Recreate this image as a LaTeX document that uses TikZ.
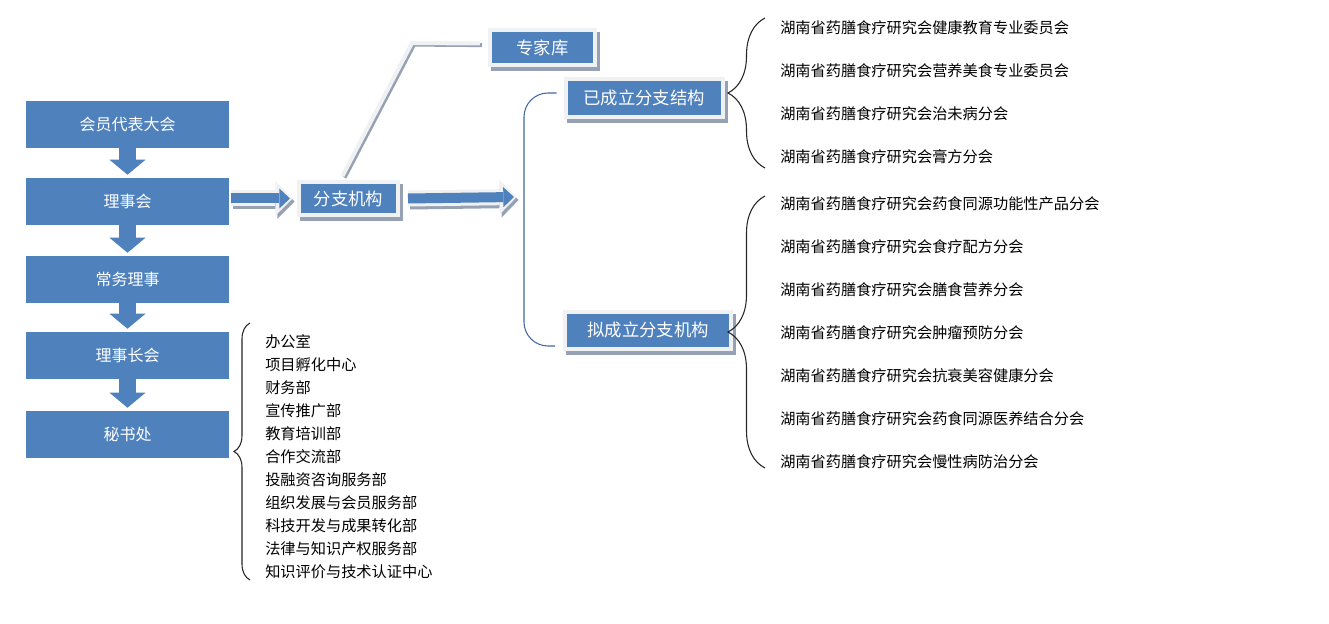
\documentclass[tikz,border=0pt]{standalone}
\usepackage{fontspec}
\setmainfont{Noto Sans CJK SC}
\usetikzlibrary{arrows.meta,decorations.pathreplacing}
\definecolor{BoxBlue}{RGB}{79,129,189}
\definecolor{FrameGray}{RGB}{240,241,243}
\definecolor{ShadowGray}{RGB}{150,162,180}
\definecolor{ForkBlue}{RGB}{65,105,160}
\tikzset{
  mainbox/.style={fill=BoxBlue,text=white,minimum width=152.25pt,
    minimum height=35.25pt,inner sep=0pt,font=\fontsize{12}{14}\selectfont},
  framebox/.style={fill=BoxBlue,draw=FrameGray,line width=3pt,text=white,
    inner sep=0pt,font=\fontsize{13}{15}\selectfont,
    preaction={fill=ShadowGray,draw=ShadowGray,line width=3pt,
      transform canvas={shift={(2.25pt,-3pt)}}}},
  downarrow/.style={draw=BoxBlue,line width=12.75pt,shorten >=2.25pt,
    -{Triangle[length=11.25pt,width=27pt,line width=0pt]}},
  fatarrow/.style={draw=BoxBlue,line width=7.5pt,
    -{Triangle[length=8pt,width=15pt,line width=0pt]},
    preaction={draw=ShadowGray,line width=12pt,shorten >=-2pt,
      -{Triangle[length=13pt,width=26pt,line width=0pt]},
      transform canvas={shift={(1.5pt,-2.25pt)}}},
    preaction={draw=FrameGray,line width=12pt,shorten >=-2pt,
      -{Triangle[length=13pt,width=26pt,line width=0pt]}}},
  linkline/.style={draw=FrameGray,line width=3pt,
    preaction={draw=ShadowGray,line width=3pt,
      transform canvas={shift={(1.5pt,-1.2pt)}}}},
  forkline/.style={draw=ForkBlue,line width=0.8pt,rounded corners=18pt},
  bracket/.style={draw=black!85,line width=0.8pt,decorate},
  itemtext/.style={anchor=west,inner sep=0pt,font=\fontsize{11.4}{13}\selectfont}
}
\begin{document}
\begin{tikzpicture}[x=0.75pt,y=-0.75pt]
  \useasboundingbox (0,0) rectangle (1329,624);
  \fill[white] (0,0) rectangle (1329,624);

  % left column
  \node[mainbox] (b1) at (127.5,124.5) {会员代表大会};
  \node[mainbox] (b2) at (127.5,201.5) {理事会};
  \node[mainbox] (b3) at (127.5,279.5) {常务理事};
  \node[mainbox] (b4) at (127.5,355.5) {理事长会};
  \node[mainbox] (b5) at (127.5,434.5) {秘书处};
  \draw[downarrow] (b1.south) -- (b2.north);
  \draw[downarrow] (b2.south) -- (b3.north);
  \draw[downarrow] (b3.south) -- (b4.north);
  \draw[downarrow] (b4.south) -- (b5.north);

  % branch boxes
  \node[framebox,minimum width=74.25pt,minimum height=24.75pt] (fenzhi) at (348.5,198.5) {分支机构};
  \node[framebox,minimum width=78.75pt,minimum height=26.25pt] (zhuanjia) at (542.5,47.5) {专家库};
  \node[framebox,minimum width=117.75pt,minimum height=28.5pt] (yicheng) at (644,98) {已成立分支结构};
  \node[framebox,minimum width=124.5pt,minimum height=27.75pt] (nicheng) at (648,330) {拟成立分支机构};
  \coordinate (fork) at (524,197);

  \draw[fatarrow] ([xshift=1.5pt]b2.east |- fenzhi.west) -- ([xshift=-5.25pt]fenzhi.west);
  \draw[fatarrow] ([xshift=6pt]fenzhi.east) -- ([xshift=-7.5pt]fork);
  \draw[linkline] ([xshift=-4.5pt,yshift=3pt]fenzhi.north) -- (412,43) -- ([xshift=-6pt,yshift=3pt]zhuanjia.west);
  \draw[forkline] ([shift={(-7,-5)}]yicheng.west) -| (fork) |- ([shift={(-8,16)}]nicheng.west);

  % braces
  \draw[bracket,decoration={brace,amplitude=27.75pt}] (765,168) -- (765,18);
  \draw[bracket,decoration={brace,amplitude=27.75pt}] (765,468) -- (765,196);
  \draw[bracket,decoration={brace,amplitude=12pt}] (250,580) -- (250,323);

  % lists
  \foreach \t [count=\i] in {湖南省药膳食疗研究会健康教育专业委员会,
      湖南省药膳食疗研究会营养美食专业委员会,湖南省药膳食疗研究会治未病分会,
      湖南省药膳食疗研究会膏方分会}
    \node[itemtext] (yc\i) at (780,{28+43*(\i-1)}) {\t};
  \foreach \t [count=\i] in {湖南省药膳食疗研究会药食同源功能性产品分会,
      湖南省药膳食疗研究会食疗配方分会,湖南省药膳食疗研究会膳食营养分会,
      湖南省药膳食疗研究会肿瘤预防分会,湖南省药膳食疗研究会抗衰美容健康分会,
      湖南省药膳食疗研究会药食同源医养结合分会,湖南省药膳食疗研究会慢性病防治分会}
    \node[itemtext] (nc\i) at (780,{204+43*(\i-1)}) {\t};
  \foreach \t [count=\i] in {办公室,项目孵化中心,财务部,宣传推广部,教育培训部,
      合作交流部,投融资咨询服务部,组织发展与会员服务部,科技开发与成果转化部,
      法律与知识产权服务部,知识评价与技术认证中心}
    \node[itemtext] (bm\i) at (265,{342+23*(\i-1)}) {\t};
\end{tikzpicture}
\end{document}
